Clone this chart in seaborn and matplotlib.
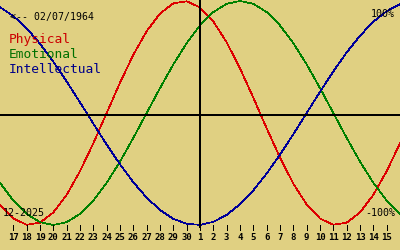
import matplotlib
matplotlib.use("Agg")
import matplotlib.pyplot as plt
import matplotlib.transforms as mtransforms
import seaborn as sns
import pandas as pd

# ---- data ----
days = [16, 17, 18, 19, 20, 21, 22, 23, 24, 25, 26, 27, 28, 29, 30,
        1, 2, 3, 4, 5, 6, 7, 8, 9, 10, 11, 12, 13, 14, 15, 16]
physical = [-81.70, -94.23, -99.77, -97.91, -88.79, -73.08, -51.96, -26.98, 0.0,
            26.98, 51.96, 73.08, 88.79, 97.91, 99.77, 94.23, 81.70, 63.12, 39.84,
            13.62, -13.62, -39.84, -63.12, -81.70, -94.23, -99.77, -97.91, -88.79,
            -73.08, -51.96, -26.98]
emotional = [-62.35, -78.18, -90.10, -97.49, -100.0, -97.49, -90.10, -78.18, -62.35,
             -43.39, -22.25, 0.0, 22.25, 43.39, 62.35, 78.18, 90.10, 97.49, 100.0,
             97.49, 90.10, 78.18, 62.35, 43.39, 22.25, 0.0, -22.25, -43.39, -62.35,
             -78.18, -90.10]
intellectual = [94.50, 86.60, 75.57, 61.82, 45.82, 28.17, 9.50, -9.50, -28.17,
                -45.82, -61.82, -75.57, -86.60, -94.50, -98.98, -99.89, -97.18,
                -90.96, -81.46, -69.01, -54.06, -37.17, -18.93, 0.0, 18.93, 37.17,
                54.06, 69.01, 81.46, 90.96, 97.18]
series_names = ["Physical", "Emotional", "Intellectual"]
series_colors = ["#dd0000", "#008000", "#000099"]
text_colors = ["#cc0000", "#007000", "#000088"]
birth_label = "<-- 02/07/1964"
month_label = "12-2025"
top_label = "100%"
bottom_label = "-100%"
today_day = 1

# ---- figure ----
sns.set_style("white")
plt.rcParams["font.family"] = ["DejaVu Sans Mono"]
plt.rcParams["lines.antialiased"] = False

W, H = 400, 250
bg = "#e0d082"
fig = plt.figure(figsize=(W / 100, H / 100), dpi=100, facecolor=bg)
ax = fig.add_axes([0, 0, 1, 1])
ax.set_facecolor(bg)

CENTER_PX, AMP_PX = 113.0, 1.12   # pixel row of 0 %, pixels per percent
xs = list(range(-1, len(days) - 1))

rows = []
for name, vals in zip(series_names, [physical, emotional, intellectual]):
    for x, v in zip(xs, vals):
        rows.append({"x": x, "value": v, "series": name})
df = pd.DataFrame(rows)

sns.lineplot(data=df, x="x", y="value", hue="series", palette=series_colors,
             hue_order=series_names, linewidth=0.5, legend=False, ax=ax,
             antialiased=False)

ax.set_xlim(-1, len(days) - 2)
ax.set_ylim(-(H - CENTER_PX) / AMP_PX, CENTER_PX / AMP_PX)
for s in ax.spines.values():
    s.set_visible(False)
ax.set_xticks([])
ax.set_yticks([])
ax.set_xlabel("")
ax.set_ylabel("")

def pv(py):  # pixel row -> data value
    return (CENTER_PX - py) / AMP_PX

# axes lines
ax.axhline(pv(115), color="black", linewidth=1.4, antialiased=False)
today_idx = days.index(today_day)
ax.vlines(xs[today_idx], pv(228), pv(0), color="black", linewidth=1.4,
          antialiased=False)

# day ticks and labels
bl = mtransforms.blended_transform_factory(ax.transData, ax.transAxes)
tick_pos = xs[1:-1]
tick_labels = days[1:-1]
ax.vlines(tick_pos, pv(230), pv(225), color="black", linewidth=0.7,
          antialiased=False)
for x, lab in zip(tick_pos, tick_labels):
    ax.text(x, 1 - 240.5 / H, str(lab), transform=bl, ha="center",
            va="baseline", fontsize=6.5, fontweight="bold", color="black")

def ftext(px, py, s, **kw):
    fig.text(px / W, 1 - py / H, s, va="baseline", **kw)

ftext(10, 20, birth_label, fontsize=7.1, color="black")
for i, (name, c) in enumerate(zip(series_names, text_colors)):
    ftext(9, 43 + 15 * i, name, fontsize=9.3, color=c)
ftext(395, 16.5, top_label, fontsize=7.2, color="black", ha="right")
ftext(395, 216.5, bottom_label, fontsize=7.2, color="black", ha="right")
ftext(3, 216.5, month_label, fontsize=7.2, color="black")

fig.savefig("out.png", dpi=100, facecolor=bg)
